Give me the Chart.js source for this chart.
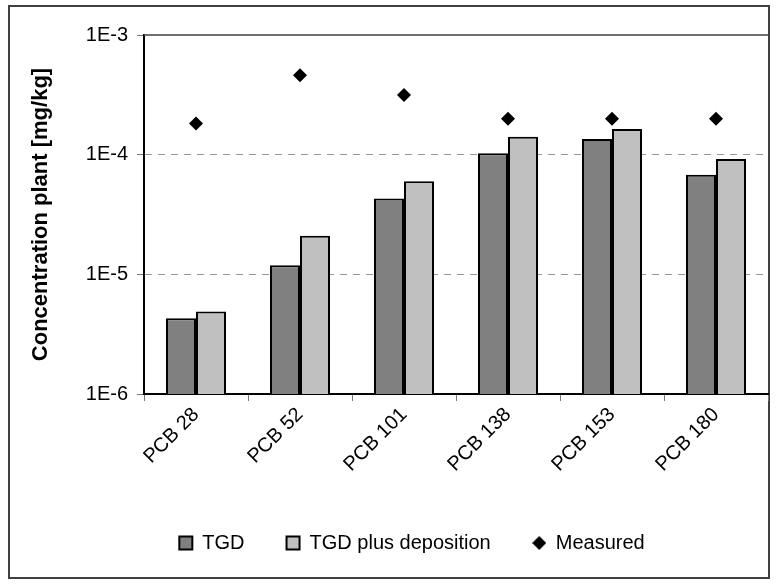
<!DOCTYPE html>
<html><head><meta charset="utf-8">
<script src="https://cdn.jsdelivr.net/npm/chart.js@4/dist/chart.umd.min.js"></script>
<style>html,body{margin:0;padding:0;background:#fff}#wrap{position:relative;width:779px;height:586px}</style>
</head><body><div id="wrap"><canvas id="c" width="779" height="586"></canvas></div>
<script>
const categories = ['PCB 28', 'PCB 52', 'PCB 101', 'PCB 138', 'PCB 153', 'PCB 180'];
const tgd = [4.3e-6, 1.19e-5, 4.3e-5, 1.03e-4, 1.35e-4, 6.8e-5];
const tgdDeposition = [4.9e-6, 2.1e-5, 6.0e-5, 1.41e-4, 1.64e-4, 9.2e-5];
const measured = [1.82e-4, 4.6e-4, 3.15e-4, 2.0e-4, 2.0e-4, 2.0e-4];
const seriesNames = ['TGD', 'TGD plus deposition', 'Measured'];
const yTickValues = [1e-6, 1e-5, 1e-4, 1e-3];
const yTickLabels = ['1E-6', '1E-5', '1E-4', '1E-3'];
const yTitle = 'Concentration plant [mg/kg]';

const FONT = "'Liberation Sans', Arial, sans-serif";

// small diamond image for legend
const diamond = document.createElement('canvas');
diamond.width = 14; diamond.height = 14;
(function(){const g = diamond.getContext('2d'); g.fillStyle = '#000'; g.beginPath(); g.moveTo(7,0); g.lineTo(14,7); g.lineTo(7,14); g.lineTo(0,7); g.closePath(); g.fill();})();

const framePlugin = {
  id: 'frame',
  beforeDraw(chart) {
    const ctx = chart.ctx;
    ctx.save();
    ctx.fillStyle = '#fff';
    ctx.fillRect(0, 0, chart.width, chart.height);
    ctx.strokeStyle = '#404040';
    ctx.lineWidth = 2;
    ctx.strokeRect(9, 6, 760, 572);
    ctx.restore();
  },
  afterDraw(chart) {
    const ctx = chart.ctx, a = chart.chartArea;
    ctx.save();
    ctx.strokeStyle = '#404040';
    ctx.lineWidth = 1.5;
    ctx.beginPath();
    ctx.moveTo(a.left, a.top);
    ctx.lineTo(a.right, a.top);
    ctx.stroke();
    ctx.restore();
  },
  afterLayout(chart) {
    if (chart.legend) { chart.legend.left += 28; chart.legend.right += 28; }
  }
};

new Chart(document.getElementById('c'), {
  type: 'bar',
  data: {
    labels: categories,
    datasets: [
      { label: seriesNames[0], data: tgd, backgroundColor: '#808080', borderColor: '#000', borderWidth: 2,
        categoryPercentage: 0.577, barPercentage: 1.0 },
      { label: seriesNames[1], data: tgdDeposition, backgroundColor: '#c0c0c0', borderColor: '#000', borderWidth: 2,
        categoryPercentage: 0.577, barPercentage: 1.0 },
      { type: 'line', label: seriesNames[2], data: measured, showLine: false, pointStyle: 'rectRot',
        pointRadius: 7, pointHoverRadius: 7, backgroundColor: '#000', borderColor: '#000', pointBorderWidth: 0 }
    ]
  },
  options: {
    responsive: false,
    animation: false,
    devicePixelRatio: 1,
    events: [],
    layout: { padding: { left: 0, right: 11, top: 35, bottom: 23 } },
    plugins: {
      tooltip: { enabled: false },
      legend: {
        position: 'bottom',
        labels: {
          usePointStyle: true,
          boxWidth: 13, boxHeight: 13,
          padding: 42,
          color: '#000',
          font: { family: FONT, size: 20 },
          generateLabels(chart) {
            const items = Chart.defaults.plugins.legend.labels.generateLabels(chart);
            items.forEach((it, i) => {
              if (i < 2) { it.pointStyle = 'rect'; it.lineWidth = 2; it.strokeStyle = '#000'; }
              else { it.pointStyle = diamond; }
            });
            return items;
          }
        }
      }
    },
    scales: {
      x: {
        afterFit(s) { s.height = 97; },
        grid: { display: true, drawOnChartArea: false, drawTicks: true, tickLength: 7, tickColor: '#777', offset: true },
        border: { display: true, color: '#000', width: 2 },
        ticks: { color: '#000', font: { family: FONT, size: 20 }, maxRotation: 45, minRotation: 45, padding: 2 }
      },
      y: {
        type: 'logarithmic',
        min: 1e-6, max: 1e-3,
        afterFit(s) { s.width = 144; },
        afterBuildTicks(axis) { axis.ticks = yTickValues.map(v => ({ value: v, major: false })); },
        grid: {
          color: (c) => (c.tick && (c.tick.value === 1e-4 || c.tick.value === 1e-5)) ? '#999' : 'rgba(0,0,0,0)',
          lineWidth: 1,
          tickColor: '#777', tickLength: 7, tickBorderDash: []
        },
        border: { display: true, color: '#000', width: 2, dash: [7, 6] },
        ticks: {
          color: '#000', font: { family: FONT, size: 20 }, padding: 9,
          callback: (v) => { const i = yTickValues.findIndex(t => Math.abs(t - v) / t < 1e-6); return i >= 0 ? yTickLabels[i] : ''; }
        },
        title: { display: true, text: yTitle, color: '#000', font: { family: FONT, size: 22, weight: 'bold' }, padding: { top: 28, bottom: 0 } }
      }
    }
  },
  plugins: [framePlugin]
});
</script>
</body></html>
